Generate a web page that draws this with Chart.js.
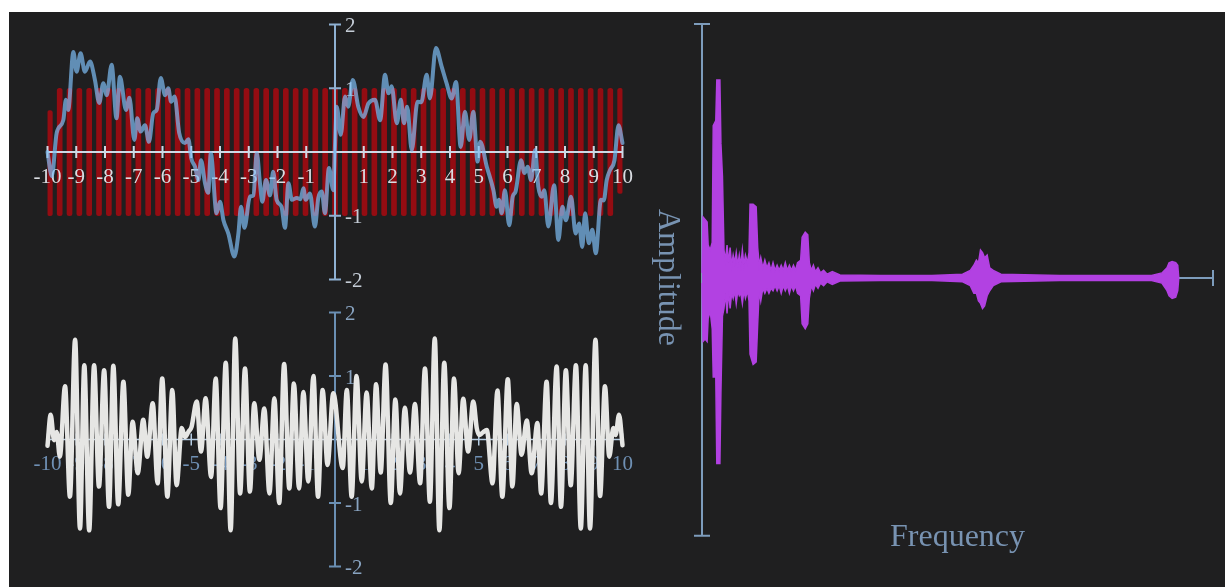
<!DOCTYPE html>
<html>
  <head>
    <script src="https://cdn.jsdelivr.net/npm/chart.js"></script>
    <style>
      body { margin: 0; background: #ffffff; }
      #panel { position: absolute; left: 9px; top: 12px; width: 1216px; height: 575px; background: #1f1f20; }
      canvas { position: absolute; }
      .title { position: absolute; font-family: "Liberation Serif", serif; font-size: 32px; line-height: 34px; color: #7893b2; white-space: nowrap; }
    </style>
  </head>
  <body>
    <div id="panel"></div>
    <canvas id="top" width="660" height="300" style="left:0; top:0;"></canvas>
    <canvas id="bottom" width="660" height="287" style="left:0; top:300px;"></canvas>
    <canvas id="spectrum" width="585" height="587" style="left:640px; top:0;"></canvas>
    <div class="title" style="left:653px; top:209px; writing-mode: vertical-rl;">Amplitude</div>
    <div class="title" style="left:890px; top:518px;">Frequency</div>

    <script>
      // shared axis ticks for the two time plots
      const timeTicks = [-10, -9, -8, -7, -6, -5, -4, -3, -2, -1, 1, 2, 3, 4, 5, 6, 7, 8, 9, 10];
      const timeLabels = ["-10", "-9", "-8", "-7", "-6", "-5", "-4", "-3", "-2", "-1", "1", "2", "3", "4", "5", "6", "7", "8", "9", "10"];
      const ampTicks = [2, 1, -1, -2];
      const ampLabels = ["2", "1", "-1", "-2"];

      // red tone: it shows up as a comb of strokes, one per zero crossing
      const redX = [-9.918, -9.576, -9.234, -8.892, -8.55, -8.208, -7.866, -7.524, -7.182, -6.84,
        -6.498, -6.156, -5.814, -5.472, -5.13, -4.788, -4.446, -4.104, -3.762, -3.42,
        -3.078, -2.736, -2.394, -2.052, -1.71, -1.368, -1.026, -0.684, -0.342, 0,
        0.342, 0.684, 1.026, 1.368, 1.71, 2.052, 2.394, 2.736, 3.078, 3.42,
        3.762, 4.104, 4.446, 4.788, 5.13, 5.472, 5.814, 6.156, 6.498, 6.84,
        7.182, 7.524, 7.866, 8.208, 8.55, 8.892, 9.234, 9.576, 9.918];
      const redLow = [-1, -1, -1, -1, -1, -1, -1, -1, -1, -1,
        -1, -1, -1, -1, -1, -1, -1, -1, -1, -1,
        -1, -1, -1, -1, -1, -1, -1, -1, -1, -1,
        -1, -1, -1, -1, -1, -1, -1, -1, -1, -1,
        -1, -1, -1, -1, -1, -1, -1, -1, -1, -1,
        -1, -1, -1, -1, -1, -1, -1, -1, -0.65];
      const redHigh = [0.65, 1, 1, 1, 1, 1, 1, 1, 1, 1,
        1, 1, 1, 1, 1, 1, 1, 1, 1, 1,
        1, 1, 1, 1, 1, 1, 1, 1, 1, 1,
        1, 1, 1, 1, 1, 1, 1, 1, 1, 1,
        1, 1, 1, 1, 1, 1, 1, 1, 1, 1,
        1, 1, 1, 1, 1, 1, 1, 1, 1];

      // blue noisy signal
      const blueX = [-10, -9.85, -9.68, -9.45, -9.36, -9.28, -9.1, -8.99, -8.85, -8.7,
        -8.52, -8.35, -8.2, -8.06, -7.94, -7.77, -7.6, -7.48, -7.27, -7.15,
        -6.98, -6.88, -6.76, -6.61, -6.47, -6.32, -6.2, -6.06, -5.91, -5.8,
        -5.7, -5.58, -5.42, -5.22, -5.1, -5.0, -4.87, -4.75, -4.66, -4.52,
        -4.41, -4.32, -4.12, -4.0, -3.88, -3.71, -3.5, -3.36, -3.27, -3.15,
        -2.96, -2.84, -2.72, -2.61, -2.53, -2.4, -2.26, -2.15, -2.03, -1.86,
        -1.74, -1.62, -1.5, -1.33, -1.2, -1.1, -1.02, -0.87, -0.7, -0.58,
        -0.46, -0.35, -0.21, -0.06, 0.0, 0.06, 0.2, 0.35, 0.46, 0.62,
        0.81, 0.99, 1.16, 1.39, 1.57, 1.74, 1.86, 1.97, 2.15, 2.29,
        2.4, 2.51, 2.67, 2.87, 3.0, 3.19, 3.3, 3.51, 3.71, 3.88,
        4.06, 4.21, 4.37, 4.52, 4.67, 4.81, 4.96, 5.05, 5.28, 5.51,
        5.62, 5.7, 5.8, 5.91, 6.06, 6.18, 6.28, 6.47, 6.59, 6.7,
        6.82, 6.96, 7.07, 7.19, 7.28, 7.42, 7.62, 7.77, 7.91, 8.03,
        8.21, 8.37, 8.49, 8.6, 8.7, 8.83, 8.95, 9.07, 9.25, 9.35,
        9.45, 9.57, 9.72, 9.86, 10];
      const blueY = [0.0, -0.38, 0.3, 0.5, 0.82, 0.66, 1.57, 1.26, 1.55, 1.26,
        1.42, 1.13, 0.77, 1.08, 0.89, 1.37, 0.53, 1.18, 0.66, 0.85,
        0.19, 0.53, 0.32, 0.42, 0.16, 0.61, 0.66, 1.16, 0.89, 1.0,
        0.79, 0.87, 0.3, 0.14, 0.2, -0.1, -0.23, -0.44, -0.13, -0.49,
        -0.64, -0.02, -0.96, -0.78, -1.07, -1.28, -1.64, -1.28, -0.86, -1.19,
        -0.7, -0.68, -0.02, -0.49, -0.78, -0.44, -0.68, -0.31, -0.75, -0.86,
        -1.19, -0.49, -0.75, -0.72, -0.74, -0.57, -0.75, -0.65, -1.17, -0.72,
        -0.62, -0.96, -0.25, -0.6, 0.1, 0.71, 0.27, 0.87, 0.71, 1.13,
        0.71, 0.55, 0.76, 0.82, 0.5, 1.21, 0.92, 1.03, 0.45, 0.82,
        0.45, 0.71, 0.03, 0.79, 0.78, 1.21, 0.84, 1.63, 1.34, 1.08,
        0.84, 1.1, 0.08, 0.63, 0.19, 0.63, -0.15, 0.16, -0.23, -0.6,
        -0.86, -0.75, -0.96, -0.6, -1.15, -0.7, -0.62, -0.13, -0.33, -0.23,
        -0.44, 0.03, -0.54, -0.7, -0.6, -1.17, -0.52, -1.38, -0.86, -1.07,
        -0.7, -1.28, -1.12, -1.49, -0.96, -1.43, -1.22, -1.59, -0.75, -0.76,
        -0.44, -0.28, -0.13, 0.42, 0.14];

      // white beating signal (peaks and troughs)
      const whiteX = [-10, -9.89, -9.77, -9.68, -9.57, -9.39, -9.22, -9.04, -8.87, -8.72,
        -8.55, -8.38, -8.21, -8.03, -7.86, -7.71, -7.54, -7.36, -7.19, -7.04,
        -6.86, -6.67, -6.53, -6.34, -6.17, -6.01, -5.83, -5.66, -5.51, -5.33,
        -5.22, -5.1, -4.99, -4.81, -4.66, -4.5, -4.31, -4.15, -3.98, -3.8,
        -3.63, -3.47, -3.3, -3.13, -2.96, -2.81, -2.63, -2.46, -2.28, -2.11,
        -1.94, -1.77, -1.59, -1.43, -1.25, -1.1, -0.93, -0.75, -0.59, -0.43,
        -0.26, -0.06, 0.27, 0.41, 0.58, 0.75, 0.93, 1.1, 1.28, 1.43,
        1.59, 1.76, 1.94, 2.1, 2.26, 2.43, 2.61, 2.78, 2.96, 3.13,
        3.3, 3.47, 3.63, 3.8, 3.98, 4.14, 4.3, 4.46, 4.63, 4.81,
        4.93, 5.02, 5.14, 5.28, 5.48, 5.65, 5.82, 6.01, 6.17, 6.32,
        6.49, 6.67, 6.84, 7.04, 7.17, 7.36, 7.51, 7.71, 7.86, 8.03,
        8.2, 8.38, 8.55, 8.72, 8.87, 9.06, 9.22, 9.39, 9.54, 9.68,
        9.76, 9.88, 10];
      const whiteY = [-0.1, 0.39, -0.01, 0.12, -0.27, 0.84, -0.9, 1.57, -1.4, 1.17,
        -1.43, 1.17, -0.74, 1.09, -1.06, 1.16, -1.02, 0.91, -0.87, 0.28,
        -0.53, 0.31, -0.27, 0.57, -0.69, 0.96, -0.9, 0.78, -0.72, 0.18,
        0.04, 0.12, 0.2, 0.6, -0.19, 0.65, -0.59, 0.96, -1.08, 1.21,
        -1.43, 1.59, -0.85, 1.12, -0.82, 0.57, -0.32, 0.49, -0.85, 0.65,
        -1.0, 1.19, -0.77, 0.88, -0.77, 0.75, -0.66, 1.0, -0.9, 0.78,
        -0.4, 0.73, -0.45, 0.78, -0.9, 1.0, -0.66, 0.74, -0.77, 0.87,
        -0.52, 1.18, -1.0, 0.63, -0.85, 0.5, -0.52, 0.56, -0.69, 1.12,
        -0.98, 1.59, -1.43, 1.21, -1.08, 0.96, -0.53, 0.64, -0.19, 0.6,
        0.18, 0.07, 0.11, 0.15, -0.69, 0.77, -0.9, 0.95, -0.74, 0.56,
        -0.24, 0.3, -0.53, 0.26, -0.85, 0.91, -1.0, 1.15, -1.06, 1.09,
        -0.72, 1.17, -1.4, 1.17, -1.4, 1.57, -0.89, 0.84, -0.27, 0.18,
        0.07, 0.39, -0.09];

      // purple spectrum: upper and lower edge of the envelope
      const freqX = [0, 0.02, 0.06, 0.1, 0.12, 0.16, 0.2, 0.22, 0.27, 0.29,
        0.35, 0.37, 0.4, 0.43, 0.46, 0.49, 0.52, 0.55, 0.58, 0.61,
        0.64, 0.67, 0.7, 0.73, 0.76, 0.79, 0.82, 0.85, 0.89, 0.92,
        0.94, 1.0, 1.06, 1.09, 1.12, 1.15, 1.19, 1.23, 1.27, 1.31,
        1.35, 1.39, 1.43, 1.47, 1.51, 1.55, 1.59, 1.63, 1.67, 1.71,
        1.75, 1.79, 1.83, 1.87, 1.93, 1.96, 2.02, 2.07, 2.1, 2.14,
        2.18, 2.22, 2.27, 2.32, 2.38, 2.45, 2.55, 2.7, 3.5, 4.5,
        5.1, 5.25, 5.32, 5.37, 5.41, 5.45, 5.49, 5.53, 5.58, 5.63,
        5.7, 5.85, 7.0, 8.8, 9.0, 9.1, 9.14, 9.2, 9.27, 9.31,
        9.33];
      const ampHi = [0.02, 0.24, 0.23, 0.22, 0.13, 0.11, 0.14, 0.6, 0.62, 0.78,
        0.78, 0.53, 0.4, 0.11, 0.07, 0.13, 0.06, 0.12, 0.05, 0.09,
        0.06, 0.1, 0.05, 0.09, 0.05, 0.11, 0.05, 0.09, 0.06, 0.1,
        0.29, 0.29, 0.28, 0.12, 0.05, 0.08, 0.04, 0.07, 0.04, 0.06,
        0.03, 0.06, 0.03, 0.05, 0.03, 0.05, 0.03, 0.06, 0.03, 0.05,
        0.03, 0.05, 0.03, 0.06, 0.07, 0.16, 0.18, 0.17, 0.06, 0.03,
        0.05, 0.025, 0.04, 0.02, 0.03, 0.015, 0.025, 0.012, 0.01, 0.01,
        0.015, 0.03, 0.05, 0.07, 0.06, 0.11, 0.1, 0.08, 0.09, 0.04,
        0.03, 0.015, 0.01, 0.01, 0.02, 0.04, 0.06, 0.065, 0.06, 0.05,
        0];
      const ampLo = [-0.02, -0.25, -0.24, -0.25, -0.16, -0.13, -0.2, -0.39, -0.39, -0.73,
        -0.73, -0.45, -0.15, -0.12, -0.06, -0.14, -0.05, -0.12, -0.06, -0.08,
        -0.05, -0.1, -0.05, -0.07, -0.06, -0.1, -0.05, -0.08, -0.05, -0.09,
        -0.3, -0.34, -0.33, -0.18, -0.05, -0.09, -0.04, -0.06, -0.04, -0.06,
        -0.04, -0.05, -0.03, -0.05, -0.03, -0.06, -0.03, -0.05, -0.03, -0.06,
        -0.03, -0.05, -0.03, -0.06, -0.07, -0.18, -0.2, -0.18, -0.08, -0.03,
        -0.05, -0.025, -0.04, -0.02, -0.03, -0.015, -0.025, -0.012, -0.01, -0.01,
        -0.015, -0.03, -0.06, -0.06, -0.09, -0.1, -0.12, -0.11, -0.07, -0.05,
        -0.03, -0.015, -0.01, -0.01, -0.02, -0.05, -0.07, -0.08, -0.075, -0.05,
        0];

      function pts(xs, ys) {
        return xs.map((x, i) => ({ x: x, y: ys[i] }));
      }

      // axes that cross at zero, drawn with the chart's own scales
      function crossAxes(a) {
        function draw(chart) {
          const ctx = chart.ctx, xs = chart.scales.x, ys = chart.scales.y;
          const ox = xs.getPixelForValue(0), oy = ys.getPixelForValue(0);
          ctx.save();
          ctx.strokeStyle = a.xColor;
          ctx.lineWidth = a.xWidth;
          ctx.beginPath();
          ctx.moveTo(xs.getPixelForValue(xs.min), oy);
          ctx.lineTo(xs.getPixelForValue(xs.max), oy);
          a.xTicks.forEach(v => {
            const p = xs.getPixelForValue(v);
            ctx.moveTo(p, oy - a.tick);
            ctx.lineTo(p, oy + a.tick);
          });
          ctx.stroke();
          ctx.strokeStyle = a.yColor;
          ctx.lineWidth = a.yWidth;
          ctx.beginPath();
          ctx.moveTo(ox, ys.getPixelForValue(ys.max));
          ctx.lineTo(ox, ys.getPixelForValue(ys.min));
          a.yTicks.forEach(v => {
            const p = ys.getPixelForValue(v);
            ctx.moveTo(ox - a.tick, p);
            ctx.lineTo(ox + a.tick, p);
          });
          ctx.stroke();
          ctx.font = '21px "Liberation Serif", serif';
          ctx.textBaseline = 'middle';
          if (a.xLabels) {
            ctx.fillStyle = a.xLabelColor;
            ctx.textAlign = 'center';
            a.xLabels.forEach((t, i) => ctx.fillText(t, xs.getPixelForValue(a.xTicks[i]), oy + 25));
          }
          if (a.yLabels) {
            ctx.fillStyle = a.yLabelColor;
            ctx.textAlign = 'left';
            a.yLabels.forEach((t, i) => ctx.fillText(t, ox + 10, ys.getPixelForValue(a.yTicks[i]) + 2));
          }
          ctx.restore();
        }
        return {
          id: 'crossAxes',
          beforeDatasetsDraw(chart) { if (a.under < 0) draw(chart); },
          afterDatasetDraw(chart, args) { if (args.index === a.under) draw(chart); }
        };
      }

      function baseOptions(xr, yr, pad) {
        return {
          responsive: false,
          animation: false,
          layout: { padding: pad },
          plugins: { legend: { display: false }, tooltip: { enabled: false } },
          elements: { point: { radius: 0 } },
          scales: {
            x: { type: 'linear', min: xr[0], max: xr[1], offset: false, display: false },
            y: { type: 'linear', min: yr[0], max: yr[1], display: false }
          }
        };
      }

      // top: red tone with the noisy blue signal over it
      new Chart(document.getElementById("top"), {
        type: "line",
        data: {
          datasets: [
            {
              data: pts(blueX, blueY),
              borderColor: "rgba(125, 190, 245, 0.7)",
              borderWidth: 4,
              cubicInterpolationMode: "monotone",
              borderJoinStyle: "round",
              borderCapStyle: "round",
              clip: false
            },
            {
              type: "bar",
              data: redX.map((x, i) => ({ x: x, y: [redLow[i], redHigh[i]] })),
              backgroundColor: "#940c12",
              barThickness: 5,
              borderRadius: 2.5,
              borderSkipped: false,
              grouped: false
            }
          ]
        },
        options: baseOptions([-10, 10], [-2, 2], { left: 47.5, right: 37.5, top: 24.5, bottom: 20.5 }),
        plugins: [crossAxes({
          under: 1, tick: 6,
          xColor: "#cfd9e6", xWidth: 2, yColor: "#8fb1d3", yWidth: 2,
          xTicks: timeTicks, xLabels: timeLabels, xLabelColor: "#dadde2",
          yTicks: ampTicks, yLabels: ampLabels, yLabelColor: "#c4ccd6"
        })]
      });

      // bottom: white beating signal
      new Chart(document.getElementById("bottom"), {
        type: "line",
        data: {
          datasets: [
            {
              data: pts(whiteX, whiteY),
              borderColor: "#e6e6e4",
              borderWidth: 4.5,
              cubicInterpolationMode: "monotone",
              borderJoinStyle: "round",
              borderCapStyle: "round",
              clip: false
            }
          ]
        },
        options: baseOptions([-10, 10], [-2, 2], { left: 47.5, right: 37.5, top: 12.5, bottom: 20.5 }),
        plugins: [crossAxes({
          under: -1, tick: 6,
          xColor: "#b6cde3", xWidth: 1.5, yColor: "#6a8fb3", yWidth: 2,
          xTicks: timeTicks, xLabels: timeLabels, xLabelColor: "#6f90b4",
          yTicks: ampTicks, yLabels: ampLabels, yLabelColor: "#88a3c0"
        })]
      });

      // right: spectrum as a filled envelope
      new Chart(document.getElementById("spectrum"), {
        type: "line",
        data: {
          datasets: [
            {
              data: pts(freqX, ampHi),
              borderColor: "#b241e2",
              backgroundColor: "#b241e2",
              borderWidth: 1.5,
              tension: 0,
              fill: "+1",
              clip: false
            },
            {
              data: pts(freqX, ampLo),
              borderColor: "#b241e2",
              borderWidth: 1.5,
              tension: 0,
              fill: false,
              clip: false
            }
          ]
        },
        options: baseOptions([0, 10], [-1.015, 1], { left: 62, right: 12, top: 24, bottom: 51.2 }),
        plugins: [crossAxes({
          under: -1, tick: 8,
          xColor: "#7d9cbc", xWidth: 2, yColor: "#7d9cbc", yWidth: 2,
          xTicks: [10], yTicks: [1, -1.015]
        })]
      });
    </script>
  </body>
</html>
